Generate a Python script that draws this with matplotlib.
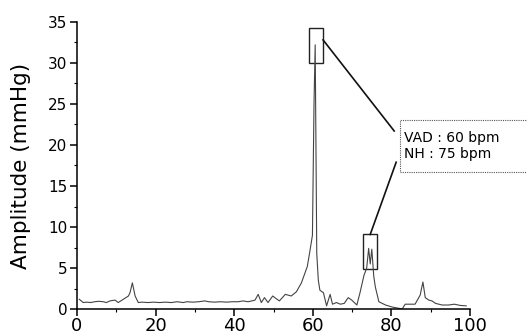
import numpy as np
import matplotlib.pyplot as plt
import matplotlib.patches as patches
from matplotlib.ticker import MultipleLocator

# spectrum (frequency in bpm, amplitude in mmHg)
freq = [0.6, 1.6, 2.5, 3.5, 4.5, 5.5, 6.7, 7.5, 8.4, 9.7, 10.5, 11.8, 13.1, 13.5,
        14.1, 14.8, 15.6, 16.5, 18.0, 19.5, 21.0, 22.5, 24.0, 25.5, 27.0, 28.0,
        29.5, 31.0, 32.5, 33.5, 35.0, 36.5, 38.0, 39.5, 41.0, 42.3, 43.5, 44.5,
        45.3, 46.1, 46.9, 47.7, 48.6, 49.8, 50.6, 51.5, 53.0, 54.5, 55.8, 57.1,
        58.0, 58.6, 59.3, 59.9, 60.3, 60.6, 61.0, 61.4, 61.8, 62.7, 63.5, 64.4,
        65.0, 66.0, 67.0, 68.0, 69.0, 69.9, 71.2, 72.0, 73.0, 73.7, 74.2, 74.6,
        75.0, 75.5, 75.9, 76.8, 78.5, 80.2, 81.9, 82.7, 83.5, 85.0, 86.0, 87.3,
        88.0, 88.6, 89.5, 90.3, 91.2, 92.9, 94.5, 96.0, 97.5, 99.0]
amp = [1.2, 0.8, 0.85, 0.8, 0.9, 0.95, 0.9, 0.8, 1.0, 1.1, 0.8, 1.2, 1.6, 2.0,
       3.2, 1.6, 0.8, 0.85, 0.8, 0.85, 0.8, 0.85, 0.8, 0.9, 0.8, 0.9,
       0.85, 0.9, 1.0, 0.9, 0.85, 0.9, 0.85, 0.9, 0.9, 1.0, 0.9, 1.0,
       1.1, 1.8, 0.8, 1.4, 0.8, 1.6, 1.3, 1.0, 1.8, 1.6, 2.1, 3.2,
       4.4, 5.2, 7.2, 9.0, 25.0, 32.2, 6.8, 3.5, 2.3, 2.0, 0.4, 1.8,
       0.6, 0.8, 0.6, 0.7, 1.4, 1.1, 0.5, 2.0, 4.1, 5.0, 7.4, 5.5,
       7.3, 4.0, 2.7, 0.9, 0.5, 0.25, 0.1, 0.0, 0.6, 0.6, 0.6, 1.7,
       3.3, 1.4, 1.1, 1.0, 0.7, 0.5, 0.5, 0.6, 0.45, 0.4]

label_lines = ["VAD : 60 bpm", "NH : 75 bpm"]

fig = plt.figure(figsize=(5.27, 3.36), dpi=100)
ax = fig.add_axes([0.146, 0.080, 0.746, 0.855])

ax.plot(freq, amp, color='#444444', lw=0.8)

ax.set_xlim(0, 100)
ax.set_ylim(0, 35)
ax.xaxis.set_major_locator(MultipleLocator(20))
ax.xaxis.set_minor_locator(MultipleLocator(10))
ax.yaxis.set_major_locator(MultipleLocator(5))
ax.yaxis.set_minor_locator(MultipleLocator(2.5))
ax.tick_params(axis='both', which='major', direction='out', length=5, width=1.1, pad=2)
ax.tick_params(axis='both', which='minor', direction='out', length=2.5, width=0.8)
ax.tick_params(axis='x', labelsize=13, pad=1)
ax.tick_params(axis='y', labelsize=11)
for side in ['top', 'right']:
    ax.spines[side].set_visible(False)
for side in ['left', 'bottom']:
    ax.spines[side].set_linewidth(1.1)
ax.set_ylabel("Amplitude (mmHg)", fontsize=15.5, labelpad=12)

# boxes around the two peaks
f = np.array(freq)
a = np.array(amp)
i1 = int(np.argmax(a))
mask = (f > 70) & (f < 80)
i2 = np.where(mask)[0][np.argmax(a[mask])]
box1 = (f[i1] - 1.6, 30.0, 3.6, 4.3)
box2 = (f[i2] - 1.4, 4.9, 3.6, 4.2)
for (x0, y0, w, h) in [box1, box2]:
    ax.add_patch(patches.Rectangle((x0, y0), w, h, fill=False, edgecolor='#222222', lw=1.0))

# connector lines to the label
ax.plot([box1[0] + box1[2], 80.7], [32.8, 21.7], color='#111111', lw=1.2)
ax.plot([81.2, box2[0] + box2[2] / 2], [17.9, box2[1] + box2[3]], color='#111111', lw=1.2)

# label box (runs off the right edge like the reference)
ax.add_patch(patches.Rectangle((82.2, 16.7), 40, 6.3, fill=False, edgecolor='#555555',
                               lw=0.8, ls=(0, (1, 1)), clip_on=False))
ax.text(83.3, 19.9, "\n".join(label_lines), fontsize=10, ha='left', va='center',
        linespacing=1.15, clip_on=False)

fig.savefig("out.png", dpi=100)
